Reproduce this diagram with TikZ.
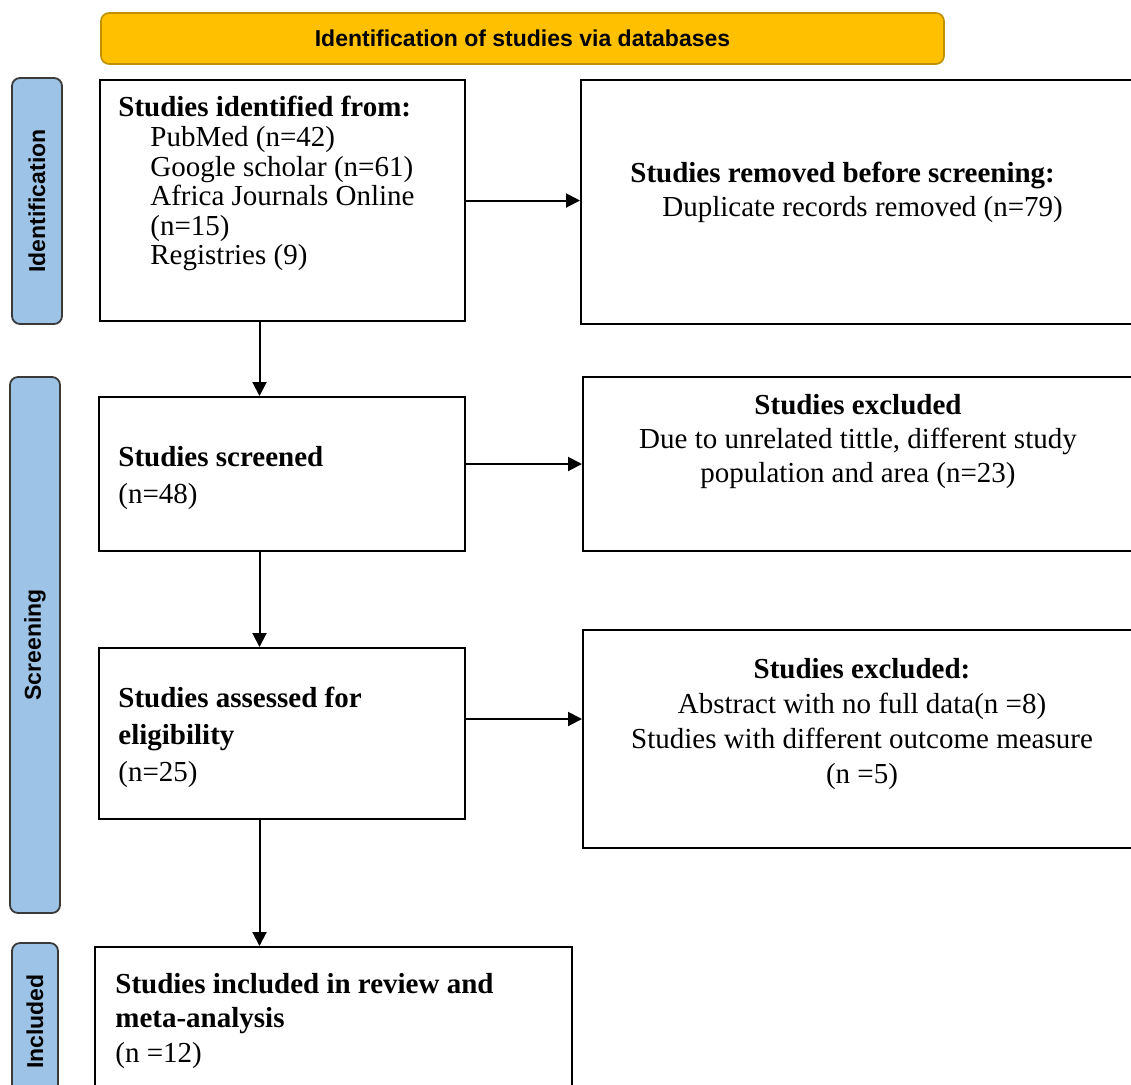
\documentclass[tikz,border=0pt]{standalone}
\usepackage{fontspec}
\setmainfont{Liberation Serif}
\newfontfamily\headfont{Liberation Sans}
\usepackage{tikz}
\usetikzlibrary{arrows.meta, calc}

\definecolor{bannergelb}{HTML}{FFC000}
\definecolor{bannerrand}{HTML}{BF9000}
\definecolor{leistenblau}{HTML}{9DC3E6}
\definecolor{leistenrand}{HTML}{3A3A3A}

\begin{document}
\begin{tikzpicture}[>={Triangle[length=7pt,width=7pt]}, x=0.5pt, y=-0.5pt,
		kasten/.style={draw, line width=1pt, inner sep=0pt},
		leiste/.style={draw=leistenrand, fill=leistenblau, line width=0.9pt, rounded corners=4pt, rotate=90, inner sep=0pt, font=\headfont\bfseries\fontsize{11.5}{13}\selectfont},
		txt/.style={inner sep=0pt, font=\fontsize{14.5}{17.5}\selectfont},
		pfeil/.style={->, line width=1pt}]
		\useasboundingbox (0,0) rectangle (1131,1084);
		
		% Banner
		\node[draw=bannerrand, fill=bannergelb, line width=0.8pt, rounded corners=4pt, minimum width=421.5pt, minimum height=25.5pt, font=\headfont\bfseries\fontsize{11.5}{13}\selectfont] (banner) at (522.5,38.5) {Identification of studies via databases};
		
		% Seitenleisten
		\node[leiste, minimum width=123pt, minimum height=25pt] (lident) at (37,201) {Identification};
		\node[leiste, minimum width=268pt, minimum height=25pt] (lscreen) at (35,645) {Screening};
		\node[leiste, minimum width=78.5pt, minimum height=23pt] (lincl) at (35,1021.5) {Included};
		
		% Kaesten
		\node[kasten, minimum width=182.5pt, minimum height=120.5pt] (ident) at (282.5,200.5) {};
		\node[kasten, minimum width=284.5pt, minimum height=122pt] (removed) at (865.5,202) {};
		\node[kasten, minimum width=183pt, minimum height=77pt] (screen) at (282,474) {};
		\node[kasten, minimum width=283.5pt, minimum height=87pt] (excla) at (866.5,464) {};
		\node[kasten, minimum width=183pt, minimum height=85.5pt] (assess) at (282,733.5) {};
		\node[kasten, minimum width=283.5pt, minimum height=109pt] (exclb) at (866.5,739) {};
		\node[kasten, minimum width=238.5pt, minimum height=81.5pt] (incl) at (333.5,1028.5) {};
		
		% Texte
		\node[txt, font=\fontsize{14.5}{14.8}\selectfont, align=left, anchor=north west] (identtxt) at (118,96) {\textbf{Studies identified from:}\\
			\hspace*{16pt}PubMed (n=42)\\
			\hspace*{16pt}Google scholar (n=61)\\
			\hspace*{16pt}Africa Journals Online\\
			\hspace*{16pt}(n=15)\\
			\hspace*{16pt}Registries (9)};
		\node[txt, font=\fontsize{14.5}{17}\selectfont, align=left, anchor=north west] (removedtxt) at (630,161.5) {\textbf{Studies removed before screening:}\\
			\hspace*{16pt}Duplicate records removed (n=79)};
		\node[txt, font=\fontsize{14.5}{18.5}\selectfont, align=left, anchor=north west] (screentxt) at (118,445.5) {\textbf{Studies screened}\\(n=48)};
		\node[txt, font=\fontsize{14.5}{17}\selectfont, align=center, anchor=north] (exclatxt) at (858,393.5) {\textbf{Studies excluded}\\
			Due to unrelated tittle, different study\\
			population and area (n=23)};
		\node[txt, font=\fontsize{14.5}{18.5}\selectfont, align=left, anchor=north west] (assesstxt) at (118,686.5) {\textbf{Studies assessed for}\\\textbf{eligibility}\\(n=25)};
		\node[txt, font=\fontsize{14.5}{17.5}\selectfont, align=center, anchor=north] (exclbtxt) at (862,657.5) {\textbf{Studies excluded:}\\
			Abstract with no full data(n =8)\\
			Studies with different outcome measure\\
			(n =5)};
		\node[txt, font=\fontsize{14.5}{17.3}\selectfont, align=left, anchor=north west] (incltxt) at (115,972.5) {\textbf{Studies included in review and}\\\textbf{meta-analysis}\\(n =12)};
		
		% Pfeile
		\coordinate (achse) at (259.5,0);
		\draw[pfeil] (ident.east) -- (ident.east -| removed.west);
		\draw[pfeil] (ident.south -| achse) -- (screen.north -| achse);
		\draw[pfeil] (screen.east |- excla.west) -- (excla.west);
		\draw[pfeil] (screen.south -| achse) -- (assess.north -| achse);
		\draw[pfeil] ([yshift=7.25pt]assess.east) -- ([yshift=7.25pt]assess.east -| exclb.west);
		\draw[pfeil] (assess.south -| achse) -- (incl.north -| achse);
	\end{tikzpicture}
\end{document}
